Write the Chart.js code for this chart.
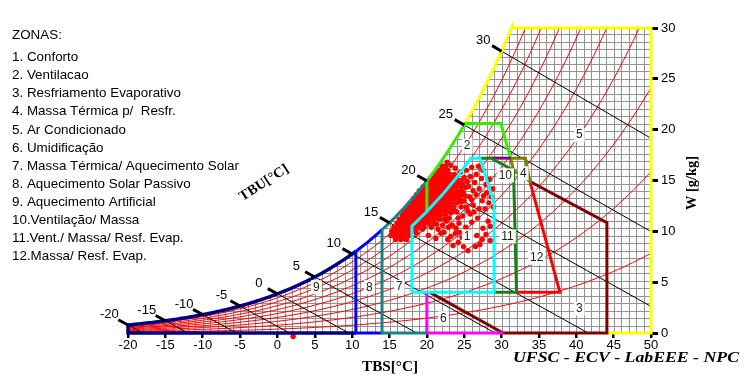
<!DOCTYPE html>
<html>
<head>
<meta charset="utf-8">
<script src="https://cdn.jsdelivr.net/npm/chart.js@4.4.0/dist/chart.umd.min.js"></script>
<style>
  html, body { margin: 0; padding: 0; background: #fff; }
</style>
</head>
<body>
<canvas id="psy" width="744" height="376"></canvas>
<script>
// axis values
const tbsTicks = [-20, -15, -10, -5, 0, 5, 10, 15, 20, 25, 30, 35, 40, 45, 50];
const wTicks = [0, 5, 10, 15, 20, 25, 30];
const rhLevels = [10, 20, 30, 40, 50, 60, 70, 80, 90];   // % relative humidity curves
const tbuLevels = [-20, -15, -10, -5, 0, 5, 10, 15, 20, 25, 30];

const legendItems = [
  "1. Conforto",
  "2. Ventilacao",
  "3. Resfriamento Evaporativo",
  "4. Massa Térmica p/  Resfr.",
  "5. Ar Condicionado",
  "6. Umidificação",
  "7. Massa Térmica/ Aquecimento Solar",
  "8. Aquecimento Solar Passivo",
  "9. Aquecimento Artificial",
  "10.Ventilação/ Massa",
  "11.Vent./ Massa/ Resf. Evap.",
  "12.Massa/ Resf. Evap."
];

// zone numbers placed on the chart [text, TBS, W]
const zoneLabels = [
  ["1", 25.4, 9.5], ["2", 25.4, 18.4], ["3", 40.4, 2.4], ["4", 32.9, 15.7],
  ["5", 40.4, 19.5], ["6", 22.2, 1.45], ["7", 16.3, 4.55], ["8", 12.3, 4.5],
  ["9", 5.2, 4.5], ["10", 30.5, 15.5], ["11", 30.8, 9.5], ["12", 34.7, 7.4]
];

// zone boundary corners [TBS, W]
const confortoZone = [[18, 4], [29, 4], [29, 12.8], [27.1, 17.2], [25.9, 17.2], [24, 15.3], [22, 13.54], [20, 11.95], [18, 10.5], [18, 4]];
const massaZone = [[27.1, 17.2], [28.6, 17.2], [31.6, 16.0], [32, 4], [29, 4]];
const ventMassaTop = [[28.6, 17.2], [31.2, 17.2]];
const massaResfrZone = [[31.2, 17.2], [33.2, 17.2], [33.8, 14.9], [31.6, 16.0], [31.2, 17.2]];
const massaEvapZone = [[33.8, 14.9], [37.8, 4], [32, 4]];
const evapZone = [[20.4, 4], [30.2, 0], [44.1, 0], [44.1, 10.85], [33.8, 14.9]];
const umidZone = [[20, 4], [20, 0], [30.2, 0]];
const ventTop = [[25.1, 20.6], [29.9, 20.6], [31.2, 17.2]];

// hourly climate points: rows of [W, list of TBS] for the dense core
const cloudRows = [
  [9.2, [15.8, 16.5, 17.3]],
  [9.6, [15.2, 15.6, 16.0, 16.4, 16.9, 17.6]],
  [10.0, [15.3, 15.7, 16.1, 16.5, 16.9, 17.3, 17.8, 18.5]],
  [10.4, [15.6, 16.0, 16.4, 16.8, 17.2, 17.6, 18.0, 18.4, 18.9, 19.6]],
  [10.8, [16.0, 16.4, 16.8, 17.2, 17.6, 18.0, 18.4, 18.8, 19.2, 19.7, 20.3, 21.0]],
  [11.2, [16.3, 16.7, 17.1, 17.5, 17.9, 18.3, 18.7, 19.1, 19.5, 19.9, 20.4, 21.0, 21.7]],
  [11.6, [16.7, 17.1, 17.5, 17.9, 18.3, 18.7, 19.1, 19.5, 19.9, 20.3, 20.7, 21.2, 21.8, 22.5]],
  [12.0, [17.0, 17.4, 17.8, 18.2, 18.6, 19.0, 19.4, 19.8, 20.2, 20.6, 21.0, 21.4, 21.9, 22.5, 23.2]],
  [12.4, [17.4, 17.8, 18.2, 18.6, 19.0, 19.4, 19.8, 20.2, 20.6, 21.0, 21.4, 21.8, 22.3, 22.9, 23.6]],
  [12.8, [17.8, 18.2, 18.6, 19.0, 19.4, 19.8, 20.2, 20.6, 21.0, 21.4, 21.8, 22.2, 22.7, 23.3, 24.0]],
  [13.2, [18.2, 18.6, 19.0, 19.4, 19.8, 20.2, 20.6, 21.0, 21.4, 21.8, 22.2, 22.6, 23.1, 23.7, 24.4]],
  [13.6, [18.6, 19.0, 19.4, 19.8, 20.2, 20.6, 21.0, 21.4, 21.8, 22.2, 22.6, 23.0, 23.5, 24.1, 24.7]],
  [14.0, [19.0, 19.4, 19.8, 20.2, 20.6, 21.0, 21.4, 21.8, 22.2, 22.6, 23.0, 23.4, 23.9, 24.5]],
  [14.4, [19.5, 19.9, 20.3, 20.7, 21.1, 21.5, 21.9, 22.3, 22.7, 23.1, 23.5, 24.0, 24.6]],
  [14.8, [20.0, 20.4, 20.8, 21.2, 21.6, 22.0, 22.4, 22.8, 23.2, 23.7, 24.3]],
  [15.2, [20.5, 20.9, 21.3, 21.7, 22.1, 22.5, 22.9, 23.4, 24.0]],
  [15.6, [21.0, 21.4, 21.8, 22.2, 22.6, 23.1, 23.7]],
  [16.0, [21.5, 21.9, 22.3, 22.8]],
  [16.4, [22.0, 22.5]]
];
// scattered points around the core [TBS, W]
const cloudSparse = [
  [22.7, 16.8], [23.2, 16.5], [23.8, 16.2], [24.5, 15.8], [25.3, 16.0], [26.0, 16.3],
  [24.6, 15.0], [25.0, 15.3], [25.8, 15.4], [26.6, 15.6], [27.3, 15.2], [27.9, 14.6],
  [25.2, 14.3], [24.8, 14.6], [25.6, 14.4], [26.4, 14.8], [27.0, 14.2], [28.0, 13.8],
  [25.1, 13.5], [24.9, 13.8], [25.7, 13.4], [26.6, 13.6], [27.4, 13.0], [28.3, 12.8],
  [24.6, 12.4], [24.6, 12.9], [25.3, 12.4], [26.2, 12.6], [27.0, 12.2], [28.9, 12.4],
  [23.7, 12.0], [23.2, 11.8], [24.0, 11.9], [24.8, 11.5], [25.8, 11.7], [26.8, 11.3],
  [28.2, 11.0], [22.4, 11.2], [22.6, 11.0], [23.4, 10.6], [24.3, 10.8], [25.2, 10.4],
  [27.5, 10.3], [28.5, 10.5], [20.6, 10.4], [21.5, 10.2], [22.3, 9.9], [23.8, 9.8],
  [24.7, 9.4], [26.7, 9.6], [27.4, 9.2], [27.9, 9.7], [28.5, 9.1], [24.2, 8.9],
  [24.9, 8.5], [25.5, 8.1], [26.5, 8.5], [27.1, 8.7], [23.5, 8.6], [19.4, 10.2],
  [18.6, 9.8], [17.6, 9.6], [16.8, 9.3], [20.2, 9.6], [21.2, 9.3], [22.8, 9.2],
  [25.0, 13.0], [25.5, 12.0], [26.0, 13.1], [25.4, 14.9], [26.2, 14.0], [27.6, 13.5],
  [26.0, 10.9], [25.7, 10.0], [26.3, 11.9], [27.8, 12.2], [28.6, 13.4], [26.9, 16.4],
  [27.5, 16.0], [28.4, 15.1], [28.8, 14.2], [23.9, 10.3], [22.9, 10.4], [21.9, 9.8],
  [23.2, 9.5], [24.4, 9.9], [22.1, 10.6], [21.3, 10.7], [23.0, 11.3], [24.2, 11.3],
  [2.1, -0.35]
];

// psychrometrics (chart construction)
const P_ATM = 99.3; // kPa
function pSat(t) { return 0.61094 * Math.exp(17.625 * t / (t + 243.04)); }
function wFromPv(pv) { return 622 * pv / (P_ATM - pv); }
function wSat(t) { return wFromPv(pSat(t)); }
function wWetBulb(t, twb) {
  const ws = wSat(twb) / 1000;
  return 1000 * ((2501 - 2.326 * twb) * ws - 1.006 * (t - twb)) / (2501 + 1.86 * t - 4.186 * twb);
}
function satCurve(t0, t1) {
  const pts = [];
  const dir = t1 > t0 ? 1 : -1;
  for (let t = t0; dir * (t1 - t) > 0; t += 0.25 * dir) pts.push({ x: t, y: wSat(t) });
  pts.push({ x: t1, y: wSat(t1) });
  return pts;
}
let tTop = 30;
for (let i = 0; i < 40; i++) { if (wSat(tTop) < 30) tTop += 0.05; }
const pts = a => a.map(p => ({ x: p[0], y: p[1] }));

const datasets = [];

// zone outlines (first = on top)
function zone(points, color, width) {
  datasets.push({ data: points, borderColor: color, borderWidth: width || 3, showLine: true,
    pointRadius: 0, fill: false, clip: false, order: 1 });
}
zone(pts(confortoZone), '#00ffff');
zone(pts(massaZone), '#1a7f1a');
zone(pts(ventMassaTop), '#800080');
zone(pts(massaResfrZone), '#808000');
zone(pts(massaEvapZone), '#ff0000');
zone([{ x: 20, y: 12 }, ...satCurve(20, 25.1), ...pts(ventTop)], '#33ee00');
zone([{ x: 20, y: 0 }, { x: 14, y: 0 }, ...satCurve(14, 20)], '#1b7f87');
zone([{ x: 14, y: 0 }, { x: 10.5, y: 0 }, ...satCurve(10.5, 14)], '#0000ff');
zone([{ x: 10.5, y: 0 }, { x: -20, y: 0 }, ...satCurve(-20, 10.5)], '#000080', 3.5);
zone(pts(umidZone), '#ff00ff');
zone(pts(evapZone), '#800000');
zone([{ x: 44.1, y: 0 }, { x: 50, y: 0 }, { x: 50, y: 30 }, { x: tTop, y: 30 }, ...satCurve(tTop, 25.1)], '#ffff00');

// climate points
const cloud = [];
cloudRows.forEach(r => r[1].forEach(t => cloud.push({ x: t, y: r[0] })));
cloudSparse.forEach(p => cloud.push({ x: p[0], y: p[1] }));
datasets.push({ data: cloud, backgroundColor: '#ff0000', borderColor: '#ff0000', borderWidth: 0,
  pointRadius: 2.7, clip: false, order: 2 });

// wet bulb lines
const tbuSegs = [];
tbuLevels.forEach(twb => {
  const ws = wSat(twb);
  let tEnd = twb + (2501 - 2.326 * twb) * ws / 1000 / 1.006;
  let wEnd = 0;
  if (tEnd > 50) { tEnd = 50; wEnd = wWetBulb(50, twb); }
  tbuSegs.push([twb, ws, tEnd, wEnd]);
  datasets.push({ data: [{ x: twb, y: ws }, { x: tEnd, y: wEnd }], borderColor: '#000', borderWidth: 1,
    showLine: true, pointRadius: 0, order: 3 });
});

// relative humidity curves
rhLevels.forEach(rh => {
  const d = [];
  for (let t = -20; t <= 50.001; t += 0.5) {
    const w = wFromPv(rh / 100 * pSat(t));
    d.push({ x: t, y: w });
    if (w > 30) break;
  }
  datasets.push({ data: d, borderColor: '#ff0000', borderWidth: 1, showLine: true, pointRadius: 0, order: 4 });
});

const gridW = 0.735;

function fitText(ctx, text, x, y, width) {
  const m = ctx.measureText(text).width;
  ctx.save();
  ctx.translate(x, y);
  ctx.scale(width / m, 1);
  ctx.fillText(text, 0, 0);
  ctx.restore();
}

const psyPlugin = {
  id: 'psy',
  beforeDatasetsDraw(chart) {
    const { ctx, scales: { x, y } } = chart;
    ctx.save();
    ctx.beginPath();
    ctx.moveTo(x.getPixelForValue(-20), y.getPixelForValue(0));
    ctx.lineTo(x.getPixelForValue(50), y.getPixelForValue(0));
    ctx.lineTo(x.getPixelForValue(50), y.getPixelForValue(30));
    satCurve(tTop, -20).forEach(p => ctx.lineTo(x.getPixelForValue(p.x), y.getPixelForValue(Math.min(p.y, 30))));
    ctx.closePath();
    ctx.clip();
    ctx.strokeStyle = '#939393';
    ctx.lineWidth = 1;
    ctx.beginPath();
    for (let t = -20; t <= 50; t++) {
      const px = Math.round(x.getPixelForValue(t)) + 0.5;
      ctx.moveTo(px, y.top); ctx.lineTo(px, y.bottom);
    }
    for (let w = 0; w <= 30; w += gridW) {
      const py = Math.round(y.getPixelForValue(w)) + 0.5;
      ctx.moveTo(x.left, py); ctx.lineTo(x.right, py);
    }
    ctx.stroke();
    ctx.restore();
  },
  afterDatasetsDraw(chart) {
    const { ctx, scales: { x, y } } = chart;
    ctx.save();
    // wet bulb ticks and labels
    ctx.font = '13px "Liberation Sans", Arial, sans-serif';
    ctx.fillStyle = '#000';
    ctx.textAlign = 'center';
    ctx.textBaseline = 'middle';
    tbuSegs.forEach((s, i) => {
      const x0 = x.getPixelForValue(s[0]), y0 = y.getPixelForValue(s[1]);
      const x1 = x.getPixelForValue(s[2]), y1 = y.getPixelForValue(s[3]);
      const len = Math.hypot(x1 - x0, y1 - y0);
      const dx = (x1 - x0) / len, dy = (y1 - y0) / len;
      ctx.strokeStyle = '#000';
      ctx.lineWidth = 3;
      ctx.beginPath();
      ctx.moveTo(x0, y0);
      ctx.lineTo(x0 - 11 * dx, y0 - 11 * dy);
      ctx.stroke();
      ctx.fillText(String(tbuLevels[i]), x0 - 20 * dx - 1, y0 - 20 * dy - 1);
    });
    // zone numbers
    ctx.font = '12px "Liberation Sans", Arial, sans-serif';
    zoneLabels.forEach(z => {
      const px = x.getPixelForValue(z[1]), py = y.getPixelForValue(z[2]);
      const w = ctx.measureText(z[0]).width;
      ctx.fillStyle = '#fff';
      ctx.fillRect(px - w / 2 - 2, py - 7, w + 4, 14);
      ctx.fillStyle = '#222';
      ctx.fillText(z[0], px, py);
    });
    // legend text
    ctx.textAlign = 'left';
    ctx.fillStyle = '#000';
    ctx.font = '13.4px "Liberation Sans", Arial, sans-serif';
    ctx.fillText('ZONAS:', 12, 35);
    legendItems.forEach((s, i) => ctx.fillText(s, 12, 57.3 + i * 18.13));
    // axis titles
    ctx.font = 'bold 14px "Liberation Serif", "Times New Roman", serif';
    ctx.textAlign = 'center';
    fitText(ctx, 'TBS[°C]', 390, 367, 56);
    ctx.save();
    ctx.translate(692, 183);
    ctx.rotate(-Math.PI / 2);
    fitText(ctx, 'W [g/kg]', 0, 0, 54);
    ctx.restore();
    ctx.save();
    ctx.translate(264, 183);
    ctx.rotate(-33 * Math.PI / 180);
    fitText(ctx, 'TBU[°C]', 0, 0, 56);
    ctx.restore();
    ctx.font = 'italic bold 15px "Liberation Serif", "Times New Roman", serif';
    ctx.textAlign = 'left';
    fitText(ctx, 'UFSC - ECV - LabEEE - NPC', 513, 358, 226);
    ctx.restore();
  }
};

new Chart(document.getElementById('psy'), {
  type: 'scatter',
  data: { datasets: datasets },
  options: {
    responsive: false,
    animation: false,
    devicePixelRatio: 1,
    layout: { padding: { left: 128, top: 28, right: 0, bottom: 0 } },
    plugins: { legend: { display: false }, tooltip: { enabled: false } },
    scales: {
      x: {
        type: 'linear', min: tbsTicks[0], max: tbsTicks[tbsTicks.length - 1],
        afterFit: s => { s.height = 43; },
        afterBuildTicks: s => { s.ticks = tbsTicks.map(v => ({ value: v })); },
        ticks: { color: '#000', font: { family: '"Liberation Sans", Arial', size: 13 }, padding: 0, maxRotation: 0 },
        grid: { drawOnChartArea: false, drawTicks: true, tickLength: 5, color: '#000', lineWidth: 2.5 },
        border: { display: false }
      },
      y: {
        type: 'linear', position: 'right', min: wTicks[0], max: wTicks[wTicks.length - 1],
        afterFit: s => { s.width = 93; },
        afterBuildTicks: s => { s.ticks = wTicks.map(v => ({ value: v })); },
        ticks: { color: '#000', font: { family: '"Liberation Sans", Arial', size: 13 }, padding: 3 },
        grid: { drawOnChartArea: false, drawTicks: true, tickLength: 7, color: '#000', lineWidth: 3 },
        border: { display: false }
      }
    }
  },
  plugins: [psyPlugin]
});
</script>
</body>
</html>
